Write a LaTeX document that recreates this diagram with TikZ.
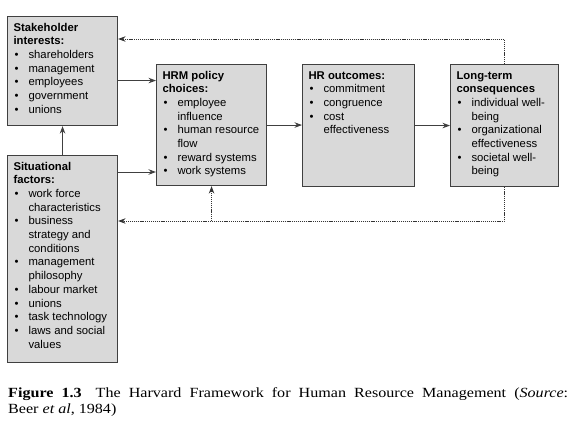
\documentclass[tikz,border=0pt]{standalone}
\usepackage{fontspec}
\setmainfont{Liberation Sans}
\newfontfamily\capfont[FakeStretch=1.15]{Liberation Serif}
\usetikzlibrary{arrows.meta}
\newcommand\itm[1]{\par\hangindent=15pt\hangafter=1\noindent\makebox[15pt][l]{\hspace{1pt}\textbullet}#1}
\newcommand\boxtext[3]{\begin{minipage}[c][#2][t]{#1}\fontsize{11.3}{13.7}\selectfont\leftskip=6pt\rightskip=0pt plus 1fil\parindent=0pt\rule{0pt}{14.5pt}#3\par\end{minipage}}
\tikzset{
  hbox/.style={draw=black!75, fill=black!15, line width=1.1pt, inner sep=0pt, anchor=north west},
  arr/.style={draw=black!75, line width=1pt, -{Stealth[length=7.5pt,width=5.5pt]}},
  fb/.style={draw=black!80, line width=1pt, dash pattern=on 1.2pt off 0.9pt, -{Stealth[length=7.5pt,width=5.5pt]}},
}
\begin{document}
\begin{tikzpicture}[x=1pt,y=-1pt]
\useasboundingbox (0,0) rectangle (575,423);
\node[hbox] (sh) at (7,16) {\boxtext{110pt}{109pt}{\textbf{Stakeholder}\newline\textbf{interests:}
\itm{shareholders}\itm{management}\itm{employees}\itm{government}\itm{unions}}};
\node[hbox] (sit) at (7,155) {\boxtext{110pt}{207pt}{\textbf{Situational}\newline\textbf{factors:}
\itm{work force\newline characteristics}\itm{business\newline strategy and\newline conditions}\itm{management\newline philosophy}\itm{labour market}\itm{unions}\itm{task technology}\itm{laws and social\newline values}}};
\node[hbox] (hrm) at (156,64) {\boxtext{110pt}{121pt}{\textbf{HRM policy}\newline\textbf{choices:}
\itm{employee\newline influence}\itm{human resource\newline flow}\itm{reward systems}\itm{work systems}}};
\node[hbox] (hro) at (302,64) {\boxtext{112pt}{122pt}{\textbf{HR outcomes:}
\itm{commitment}\itm{congruence}\itm{cost\newline effectiveness}}};
\node[hbox] (lt) at (450,64) {\boxtext{108pt}{122pt}{\textbf{Long-term}\newline\textbf{consequences}
\itm{individual well-\newline being}\itm{organizational\newline effectiveness}\itm{societal well-\newline being}}};
% solid connectors
\draw[arr] (sit.north) -- (sh.south);
\coordinate (a1) at ([yshift=-9.5pt]sh.east);
\draw[arr] (a1) -- (a1 -| hrm.west);
\coordinate (a2) at ([yshift=-17pt]sit.north east);
\draw[arr] (a2) -- (a2 -| hrm.west);
\draw[arr] (hrm.east) -- (hrm.east -| hro.west);
\draw[arr] (hro.east) -- (hro.east -| lt.west);
% feedback
\coordinate (f1) at ([yshift=-23pt]sh.north east);
\draw[fb] (lt.north) |- (f1);
\coordinate (f2) at ([yshift=-66pt]sit.north east);
\draw[fb] (lt.south) |- (f2);
\draw[fb] (hrm.south |- f2) -- (hrm.south);
% caption
\node[anchor=base west, text width=560pt, inner sep=0pt, align=justify, font=\capfont\fontsize{14}{16}\selectfont] (cap) at (8,397)
 {\textbf{Figure 1.3}\quad The Harvard Framework for Human Resource Management (\textit{Source}:\linebreak Beer \textit{et al}, 1984)};
\end{tikzpicture}
\end{document}
